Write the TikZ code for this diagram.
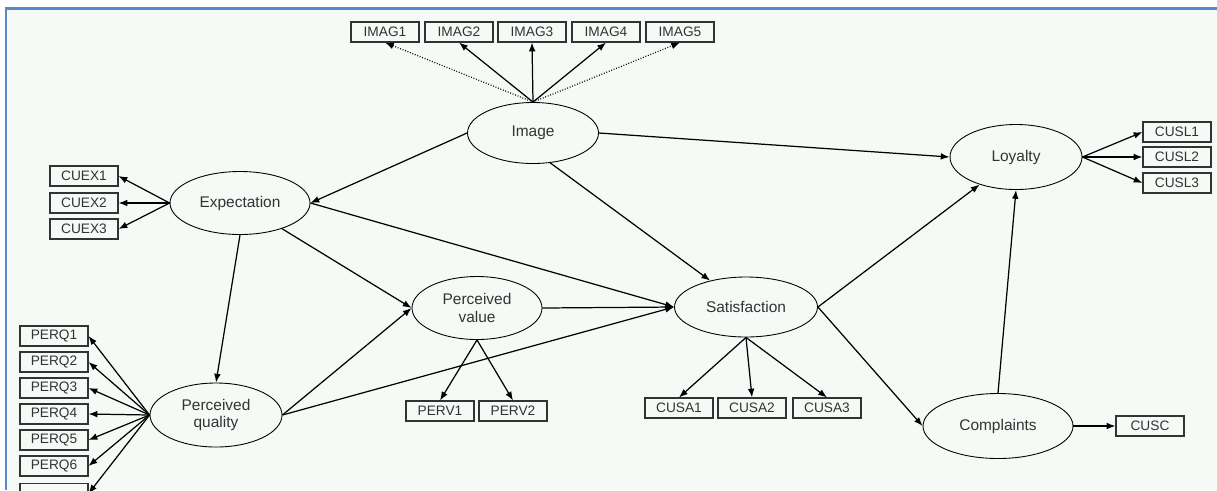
\documentclass[tikz,border=0pt]{standalone}
\usepackage{fontspec}
\setmainfont{Liberation Sans}
\usetikzlibrary{arrows.meta,shapes.geometric}

\definecolor{frameblue}{HTML}{5A8AC6}
\definecolor{paper}{HTML}{F6FAF6}
\definecolor{ink}{HTML}{333333}

\begin{document}
\begin{tikzpicture}
	% page, margins and the blue frame
	\clip (0,0) rectangle (24.34,-9.8);
	\fill[white] (0,0) rectangle (24.34,-9.8);
	\fill[paper] (0.12,-0.19) rectangle (24.34,-9.8);
	\draw[frameblue, line width=1.2pt] (0.12,-9.8) -- (0.12,-0.17) -- (24.34,-0.17);

	% latent variables
	\begin{scope}[every node/.style={ellipse,draw=black,line width=0.5pt,inner sep=0pt,align=center,text=ink,
			font=\fontsize{8.8}{9.8}\selectfont}]
		\node[minimum width=2.62cm,minimum height=1.22cm] (img) at (10.66,-2.66) {Image};
		\node[minimum width=2.80cm,minimum height=1.26cm] (exp) at (4.80,-4.06) {Expectation};
		\node[minimum width=2.64cm,minimum height=1.28cm] (pq) at (4.32,-8.30) {Perceived\\quality};
		\node[minimum width=2.60cm,minimum height=1.26cm] (pv) at (9.54,-6.16) {Perceived\\value};
		\node[minimum width=2.86cm,minimum height=1.20cm] (sat) at (14.92,-6.14) {Satisfaction};
		\node[minimum width=2.64cm,minimum height=1.30cm] (loy) at (20.32,-3.14) {Loyalty};
		\node[minimum width=3.00cm,minimum height=1.30cm] (comp) at (19.96,-8.52) {Complaints};
	\end{scope}

	% indicators
	\begin{scope}[every node/.style={rectangle,draw=ink,line width=0.6pt,inner sep=0pt,text=ink,
			minimum width=1.36cm,minimum height=0.40cm,font=\fontsize{7.8}{9}\selectfont}]
		\node (imag1) at (7.70,-0.64) {IMAG1};
		\node (imag2) at (9.18,-0.64) {IMAG2};
		\node (imag3) at (10.64,-0.64) {IMAG3};
		\node (imag4) at (12.12,-0.64) {IMAG4};
		\node (imag5) at (13.60,-0.64) {IMAG5};
		\node (cuex1) at (1.68,-3.52) {CUEX1};
		\node (cuex2) at (1.68,-4.06) {CUEX2};
		\node (cuex3) at (1.68,-4.58) {CUEX3};
		\node (perq1) at (1.08,-6.72) {PERQ1};
		\node (perq2) at (1.08,-7.24) {PERQ2};
		\node (perq3) at (1.08,-7.76) {PERQ3};
		\node (perq4) at (1.08,-8.28) {PERQ4};
		\node (perq5) at (1.08,-8.80) {PERQ5};
		\node (perq6) at (1.08,-9.32) {PERQ6};
		\node (perq7) at (1.08,-9.87) {}; % cut by the page edge
		\node (perv1) at (8.80,-8.22) {PERV1};
		\node (perv2) at (10.26,-8.22) {PERV2};
		\node (cusa1) at (13.58,-8.16) {CUSA1};
		\node (cusa2) at (15.04,-8.16) {CUSA2};
		\node (cusa3) at (16.54,-8.16) {CUSA3};
		\node (cusl1) at (23.54,-2.64) {CUSL1};
		\node (cusl2) at (23.54,-3.14) {CUSL2};
		\node (cusl3) at (23.54,-3.66) {CUSL3};
		\node (cusc) at (23.00,-8.52) {CUSC};
	\end{scope}

	% paths and loadings
	\begin{scope}[>={Latex[length=5pt,width=3.8pt]},
		every edge/.style={draw=black,line width=0.7pt}]
		\path[->] (img.west) edge (exp.east);
		\path[->] (img.east) edge (loy.west);
		\path[->] (img.-60) edge (sat);
		\path[->] (exp.south) edge (pq.north);
		\path[->] (exp) edge (pv.west);
		\path[->] (exp.east) edge (sat.west);
		\path[->] (pq.east) edge (pv.west);
		\path[->] (pq.east) edge (sat.west);
		\path[->] (pv.east) edge (sat.west);
		\path[->] (sat.east) edge (loy);
		\path[->] (sat.east) edge (comp.west);
		\path[->] (comp.north) edge (loy.south);
		\path[->] (comp.east) edge (cusc.west);

		\path[->, densely dotted, line width=0.5pt] (img.north) edge (imag1.south);
		\path[->] (img.north) edge (imag2.south);
		\path[->] (img.north) edge (imag3.south);
		\path[->] (img.north) edge (imag4.south);
		\path[->, densely dotted, line width=0.5pt] (img.north) edge (imag5.south);
		\path[->] (exp.west) edge (cuex1.east);
		\path[->] (exp.west) edge (cuex2.east);
		\path[->] (exp.west) edge (cuex3.east);
		\path[->] (pq.west) edge (perq1.east);
		\path[->] (pq.west) edge (perq2.east);
		\path[->] (pq.west) edge (perq3.east);
		\path[->] (pq.west) edge (perq4.east);
		\path[->] (pq.west) edge (perq5.east);
		\path[->] (pq.west) edge (perq6.east);
		\path[->] (pq.west) edge (perq7.east);
		\path[->] (pv.south) edge (perv1.north);
		\path[->, line width=0.45pt] (pv.south) edge (perv2.north);
		\path[->] (sat.south) edge (cusa1.north);
		\path[->] (sat.south) edge (cusa2.north);
		\path[->, line width=0.55pt] (sat.south) edge (cusa3.north);
		\path[->] (loy.east) edge (cusl1.west);
		\path[->] (loy.east) edge (cusl2.west);
		\path[->] (loy.east) edge (cusl3.west);
	\end{scope}
\end{tikzpicture}
\end{document}
